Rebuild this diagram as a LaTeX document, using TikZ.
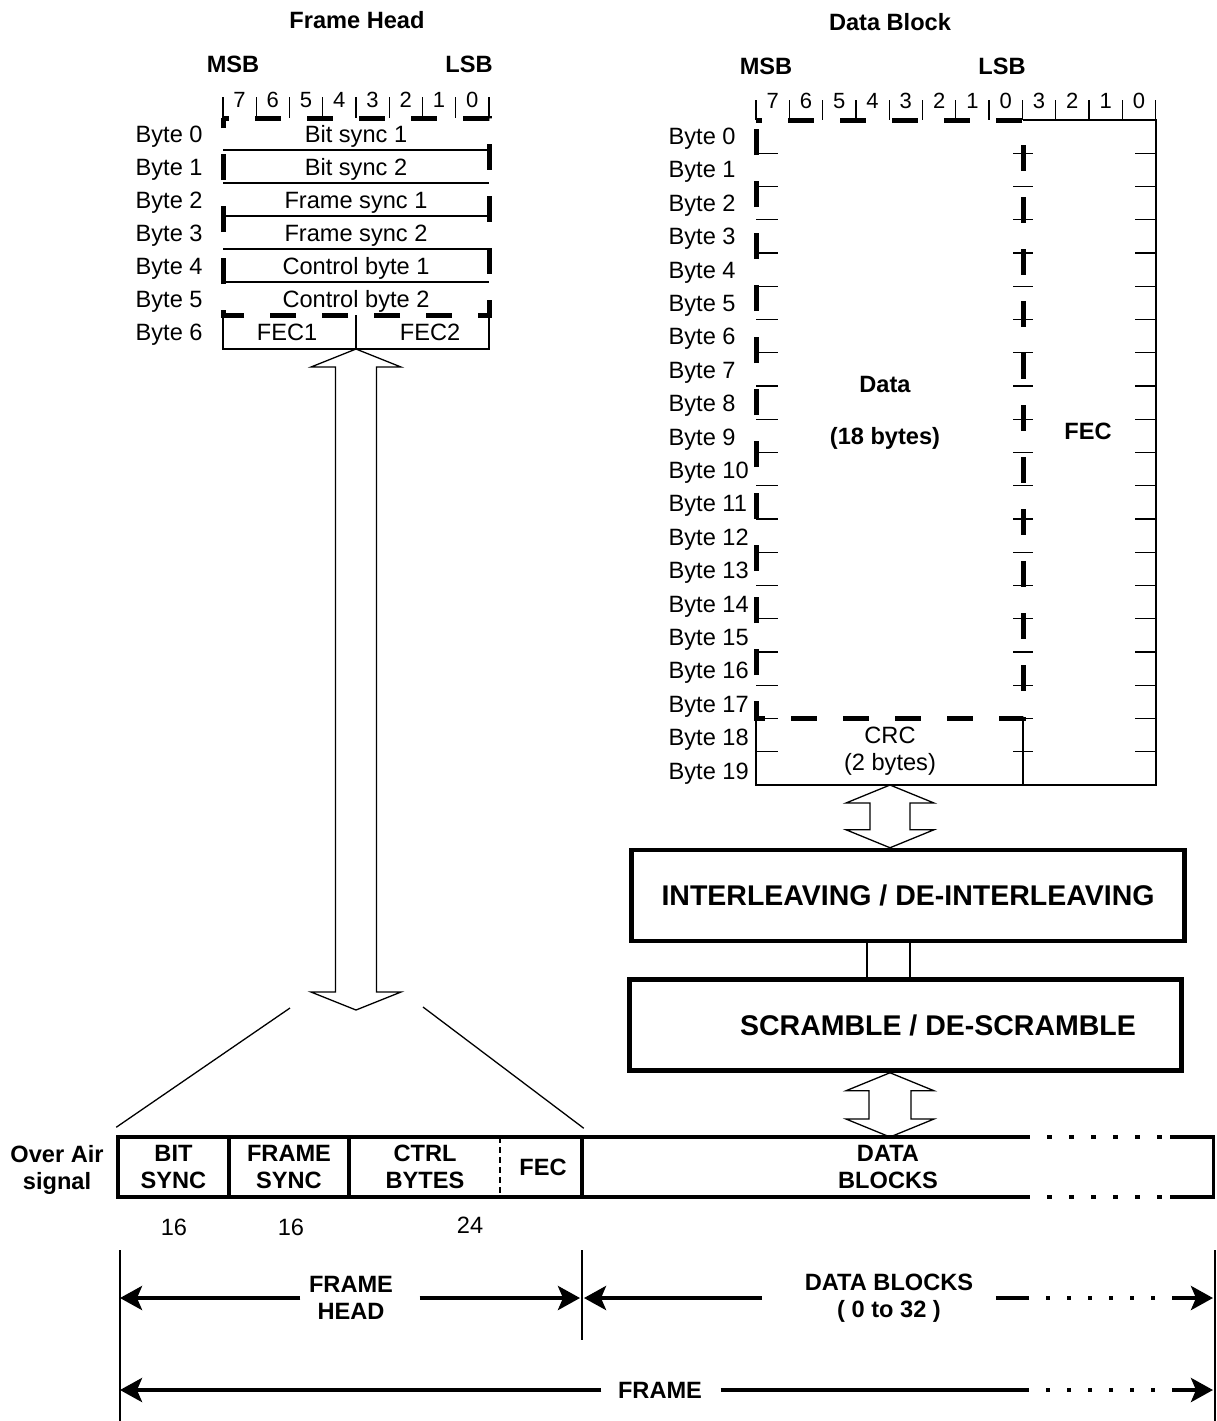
\documentclass[tikz,border=0pt]{standalone}
\usepackage{fontspec}
\setmainfont{Liberation Sans}
\usepackage{tikz}
\usetikzlibrary{arrows.meta, calc, positioning}

\newcommand{\lblsize}{\fontsize{23.6}{26.5}\selectfont}
% hollow double arrow between two points on one vertical
\newcommand{\hollowarrow}[4]{%
  \draw (#1) -- ($(#1)+(#3,18)$) -- ($(#1)+(#4,18)$) -- ($(#2)+(#4,-18)$) -- ($(#2)+(#3,-18)$) -- (#2)
    -- ($(#2)+(-#3,-18)$) -- ($(#2)+(-#4,-18)$) -- ($(#1)+(-#4,18)$) -- ($(#1)+(-#3,18)$) -- cycle;}

\tikzset{
  lbl/.style={inner sep=0pt, font=\lblsize, align=center},
  hdr/.style={inner sep=0pt, font=\bfseries\lblsize, align=center},
  bitnum/.style={inner sep=0pt, font=\fontsize{22}{24}\selectfont},
  bitlen/.style={inner sep=0pt, font=\lblsize},
  cell/.style={draw, line width=3.5pt, minimum height=60pt, inner sep=0pt, font=\bfseries\lblsize, align=center},
  stagebox/.style={draw, line width=4.5pt, minimum height=91pt, inner sep=0pt, font=\bfseries\fontsize{28.5}{32}\selectfont},
  fatdash/.style={line width=5pt, dash pattern=on 26pt off 26pt, dash phase=20pt},
  barline/.style={line width=3.5pt},
  dimline/.style={line width=4pt},
  dimarrow/.style={line width=4pt, -{Stealth[length=22pt, width=24pt, inset=5pt]}},
  dotline/.style={dash pattern=on 4pt off 17pt},
}

\begin{document}
\begin{tikzpicture}[x=1pt, y=-1pt, line width=1.3pt]
        \useasboundingbox (0,0) rectangle (1216,1421);

        % Frame head
        \node[hdr] (fhtitle) at (357,20) {Frame Head};
        \node[hdr] (fhmsb) at (233,64) {MSB};
        \node[hdr] (fhlsb) at (469,64) {LSB};
        \foreach \b [count=\i from 0] in {7,6,5,4,3,2,1,0}
            \node[bitnum] (fhbit\i) at (239.6+33.25*\i,100) {\b};
        \foreach \i in {0,...,8}
            \draw (223+33.25*\i,97) -- (223+33.25*\i,118);
        \foreach \i in {0,...,6}
            \node[lbl, anchor=base west] (fhbyte\i) at (135,142.5+33*\i) {Byte \i};
        \foreach \y in {150,183,216,249,282}
            \draw (223,\y) -- (489,\y);
        \foreach \t [count=\i from 0] in {Bit sync 1, Bit sync 2, Frame sync 1, Frame sync 2, Control byte 1, Control byte 2}
            \node[lbl, anchor=base] (fhrow\i) at (356,142.5+33*\i) {\t};
        \draw[fatdash] (223,118) -- (489,118) -- (489,315) -- (223,315) -- cycle;
        \node[lbl, anchor=base] (fec1) at (287,340.5) {FEC1};
        \node[lbl, anchor=base] (fec2) at (430,340.5) {FEC2};
        \coordinate (fhsplit) at (356,349);
        \draw (223,315) |- (489,349) -- (489,315);
        \draw (356,315) -- (fhsplit);

        % Data block
        \node[hdr] (dbtitle) at (890,22) {Data Block};
        \node[hdr] (dbmsb) at (766,66) {MSB};
        \node[hdr] (dblsb) at (1002,66) {LSB};
        \foreach \b [count=\i from 0] in {7,6,5,4,3,2,1,0,3,2,1,0}
            \node[bitnum] (dbbit\i) at (772.65+33.3*\i,101) {\b};
        \foreach \i in {0,...,12}
            \draw (756+33.3*\i,100) -- (756+33.3*\i,120);
        \foreach \i in {0,...,19}
            \node[lbl, anchor=base west] (dbbyte\i) at (668,144.5+33.4*\i) {Byte \i};
        \foreach \k in {1,...,19} {
            \draw (756,120+33.25*\k) -- ++(22,0);
            \draw (1013,120+33.25*\k) -- ++(20,0);
            \draw (1135,120+33.25*\k) -- ++(21,0);
        }
        \draw (1023,120) -- (1156,120) -- (1156,785) -- (756,785) -- (756,718.5);
        \draw (1023,718.5) -- (1023,785);
        \draw[fatdash] (756,120) -- (1023,120) -- (1023,718.5) -- (756,718.5) -- cycle;
        \node[hdr] (dbdata) at (885,384) {Data};
        \node[hdr] (dbsize) at (885,438) {(18 bytes)};
        \node[hdr] (dbfec) at (1088,431) {FEC};
        \node[lbl] (dbcrc) at (890,751) {CRC\\(2 bytes)};
        \coordinate (dbout) at (890,785);

        % Interleaving and scrambling
        \node[stagebox, minimum width=553pt] (ilv) at (908,895.5) {INTERLEAVING / DE-INTERLEAVING};
        \node[stagebox, minimum width=552pt] (scr) at (905.5,1025) {};
        \node[inner sep=0pt, font=\bfseries\fontsize{28.5}{32}\selectfont] (scrtext) at ($(scr.center)+(32.5,0)$) {SCRAMBLE / DE-SCRAMBLE};
        \draw ($(ilv.south)+(-41,0)$) -- ($(scr.north)+(-38.5,0)$);
        \draw ($(ilv.south)+(2,0)$) -- ($(scr.north)+(4.5,0)$);
        \coordinate (ilvin) at (dbout |- ilv.north);
        \coordinate (scrout) at (dbout |- scr.south);
        \hollowarrow{dbout}{ilvin}{44}{20}

        % Over air signal
        \node[hdr] (oair) at (57,1170) {Over Air\\signal};
        \node[cell, minimum width=111pt] (bitsync) at (173.5,1167) {BIT\\SYNC};
        \node[cell, minimum width=120pt] (framesync) at (289,1167) {FRAME\\SYNC};
        \node[cell, minimum width=233pt] (ctrlcell) at (465.5,1167) {};
        \node[hdr] (ctrlbytes) at (425,1167) {CTRL\\BYTES};
        \node[hdr] (ctrlfec) at (543,1167) {FEC};
        \draw[dash pattern=on 6pt off 4pt] (500,1137) -- (500,1197);
        \node[hdr] (dblocks) at (888,1167) {DATA\\BLOCKS};
        \draw[barline] (1025,1137) -- (582,1137) -- (582,1197) -- (1025,1197);
        \draw[barline, dash pattern=on 5pt off 17pt] (1025,1137) -- (1170,1137);
        \draw[barline, dash pattern=on 5pt off 17pt] (1025,1197) -- (1170,1197);
        \draw[barline] (1170,1137) -- (1213.5,1137) -- (1213.5,1197) -- (1170,1197);
        \coordinate (barin) at (890,1137);
        \hollowarrow{scrout}{barin}{44}{21}

        \node[bitlen] (len1) at (174,1227) {16};
        \node[bitlen] (len2) at (291,1227) {16};
        \node[bitlen] (len3) at (470,1225) {24};

        % Frame head arrow and fan
        \coordinate (fhdown) at (356,1010);
        \hollowarrow{fhsplit}{fhdown}{45}{20.5}
        \coordinate (fanl) at (290,1008);
        \coordinate (fanr) at (423,1007);
        \draw (fanl) -- ($(bitsync.north west)+(0,-8)$);
        \draw (fanr) -- ($(ctrlcell.north east)+(0,-7)$);

        % Spans
        \coordinate (lmark) at (120,1250);
        \coordinate (mmark) at (582,1250);
        \coordinate (rmark) at (1215,1250);
        \coordinate (dotstart) at (1025,1250);
        \coordinate (dotend) at (1175,1250);
        \draw (lmark) -- (120,1421);
        \draw (mmark) -- (582,1340);
        \draw (rmark) -- (1215,1421);

        \node[hdr] (fhead) at (351,1298) {FRAME\\HEAD};
        \draw[dimarrow] ($(fhead.west)+(-8,0)$) -- (fhead.west -| lmark);
        \draw[dimarrow] ($(fhead.east)+(26,0)$) -- ($(fhead.east -| mmark)+(-2,0)$);

        \node[hdr] (dbspan) at (889,1298) {DATA BLOCKS\\( 0 to 32 )};
        \draw[dimarrow] ($(dbspan.west)+(-42,0)$) -- ($(dbspan.west -| mmark)+(2,0)$);
        \draw[dimline] ($(dbspan.east)+(22,0)$) -- (dbspan.east -| dotstart);
        \draw[dimline, dotline] (dbspan.east -| dotstart) -- (dbspan.east -| dotend);
        \draw[dimarrow] (dbspan.east -| dotend) -- ($(dbspan.east -| rmark)+(-2,0)$);

        \node[hdr] (frame) at (660,1390) {FRAME};
        \draw[dimarrow] ($(frame.west)+(-16,0)$) -- (frame.west -| lmark);
        \draw[dimline] ($(frame.east)+(18,0)$) -- (frame.east -| dotstart);
        \draw[dimline, dotline] (frame.east -| dotstart) -- (frame.east -| dotend);
        \draw[dimarrow] (frame.east -| dotend) -- ($(frame.east -| rmark)+(-2,0)$);
\end{tikzpicture}
\end{document}
